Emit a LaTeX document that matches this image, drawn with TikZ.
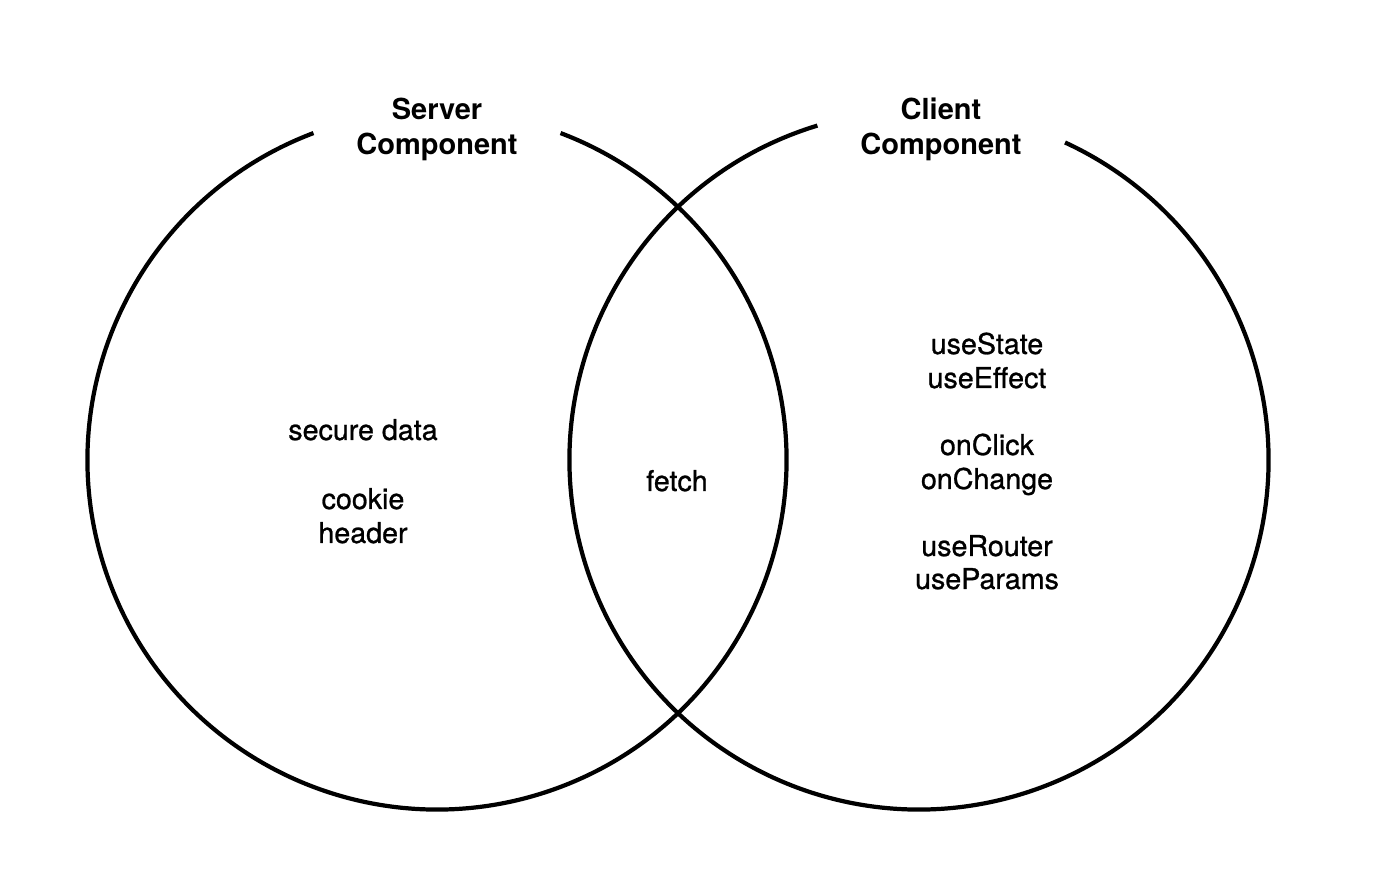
\documentclass[tikz,border=0pt]{standalone}
\usepackage{fontspec}
\setmainfont{TeX Gyre Heros}
\newfontfamily\midfont[FakeBold=0.9]{TeX Gyre Heros}
\tikzset{
  ring/.style={line width=2.4pt, black},
  head/.style={font=\fontsize{16.5}{19.8}\selectfont\bfseries, anchor=base, inner sep=0pt},
  word/.style={font=\midfont\fontsize{16.3}{19.3}\selectfont, anchor=base, inner sep=0pt}
}
\begin{document}
\begin{tikzpicture}[x=0.02cm, y=0.02cm]
  \useasboundingbox (0,0) rectangle (1394,882);
  % centres
  \coordinate (srv) at (437,422);
  \coordinate (cli) at (919,422);
  % circles, open at the top for the titles
  \draw[ring] ([shift={(110.7:349.5)}]srv) arc (110.7:429.3:349.5);
  \draw[ring] ([shift={(106.9:349.5)}]cli) arc (106.9:425.3:349.5);
  % titles
  \node[head] (srvA) at (437,762) {Server};
  \node[head] (srvB) at (437,727) {Component};
  \node[head] (cliA) at (941,762) {Client};
  \node[head] (cliB) at (941,727) {Component};
  % server side
  \node[word] (sec) at (363,442) {secure data};
  \node[word] (cook) at (363,373) {cookie};
  \node[word] (head) at (363,339) {header};
  % both
  \node[word] (fetch) at (677,391) {fetch};
  % client side
  \node[word] (st) at (987,528) {useState};
  \node[word] (ef) at (987,494) {useEffect};
  \node[word] (clk) at (987,427) {onClick};
  \node[word] (chg) at (987,393) {onChange};
  \node[word] (rt) at (987,326) {useRouter};
  \node[word] (par) at (987,293) {useParams};
\end{tikzpicture}
\end{document}
